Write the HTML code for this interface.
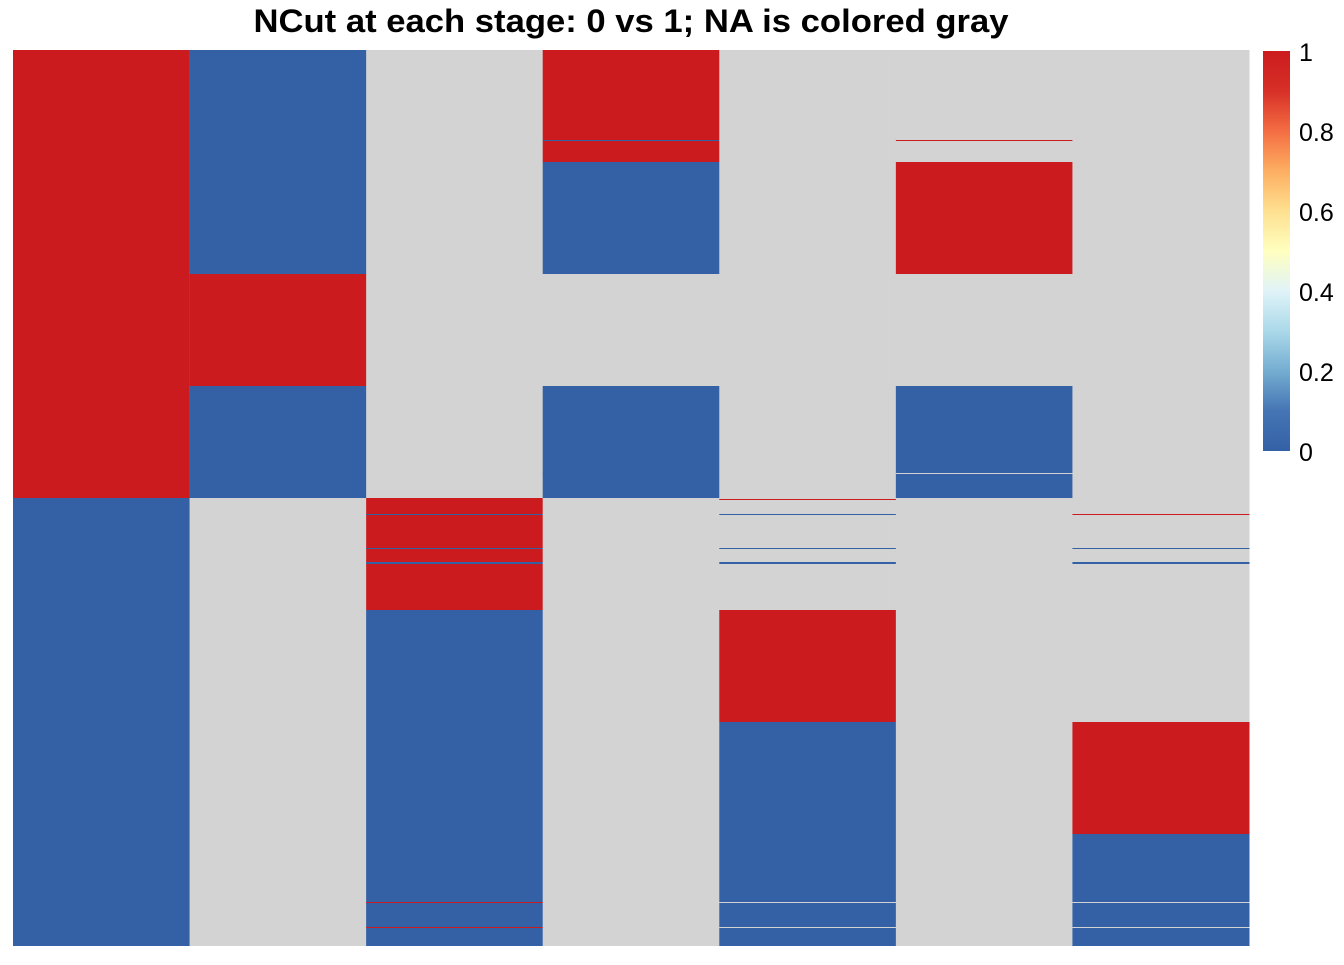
<!DOCTYPE html>
<html><head><meta charset="utf-8"><style>
body{margin:0;background:#fff;width:1344px;height:960px;overflow:hidden;font-family:"Liberation Sans",Arial,sans-serif}
</style></head><body>
<svg id="chart" width="1344" height="960" xmlns="http://www.w3.org/2000/svg">
<text x="631" y="32" text-anchor="middle" font-size="32" font-weight="bold" textLength="755" lengthAdjust="spacingAndGlyphs" font-family="Liberation Sans, Arial, sans-serif" fill="#000">NCut at each stage: 0 vs 1; NA is colored gray</text>
<defs><linearGradient id="cb" x1="0" y1="1" x2="0" y2="0">
<stop offset="0" stop-color="#3461A6"/><stop offset="0.1" stop-color="#4575B4"/><stop offset="0.2" stop-color="#74ADD1"/><stop offset="0.3" stop-color="#ABD9E9"/><stop offset="0.4" stop-color="#E0F3F8"/><stop offset="0.5" stop-color="#FFFFBF"/><stop offset="0.6" stop-color="#FEE090"/><stop offset="0.7" stop-color="#FDAE61"/><stop offset="0.8" stop-color="#F46D43"/><stop offset="0.9" stop-color="#D73027"/><stop offset="1" stop-color="#CB1B1E"/></linearGradient></defs>
<g id="cells"></g>
<rect x="1263" y="51" width="27" height="400" fill="url(#cb)"/>
<g id="legend"></g>
</svg>
<script>
// rows: 896 rows total; segments per column: [startRow, endRow, value] (value null => NA gray, default)
const nRows = 896;
const columns = ["stage1","stage2","stage3","stage4","stage5","stage6","stage7"];
const col1 = [[0,448,1],[448,896,0]];
const col2 = [[0,224,0],[224,336,1],[336,448,0]];
const col3 = [[448,560,1],[464,465,0],[498,499,0],[512,514,0],[560,896,0],[852,853,1],[877,878,1]];
const col4 = [[0,112,1],[90,91,0],[112,224,0],[336,448,0],[423,424,0]];
const col5 = [[449,450,1],[464,465,0],[498,499,0],[512,514,0],[560,672,1],[672,896,0],[852,853,null],[877,878,null]];
const col6 = [[90,91,1],[112,224,1],[336,448,0],[423,424,null]];
const col7 = [[464,465,1],[498,499,0],[512,514,0],[672,784,1],[784,896,0],[852,853,null],[877,878,null]];
const segments = [col1,col2,col3,col4,col5,col6,col7];
const legendTicks = [0,0.2,0.4,0.6,0.8,1];
const legendLabels = ["0","0.2","0.4","0.6","0.8","1"];

const X0=13,X1=1249,Y0=50,Y1=946;
const colW=(X1-X0)/columns.length;
const xs=i=>X0+i*colW;
const ys=r=>Y0+(r/nRows)*(Y1-Y0);
const color=v=>v===null?"#D3D3D3":(v>=0.5?"#CB1B1E":"#3461A6");
const NS="http://www.w3.org/2000/svg";
const g=document.getElementById('cells');
columns.forEach((c,i)=>{
  const bg=document.createElementNS(NS,'rect');
  
  
  bg.setAttribute('x',xs(i));bg.setAttribute('y',Y0);bg.setAttribute('width',colW+0.5);bg.setAttribute('height',Y1-Y0);
  bg.setAttribute('fill','#D3D3D3');g.appendChild(bg);
  segments[i].forEach(s=>{
    const r=document.createElementNS(NS,'rect');
    
    
    const y=ys(s[0]);let h=ys(s[1])-y;
    r.setAttribute('x',xs(i));r.setAttribute('y',y);r.setAttribute('width',colW+0.5);r.setAttribute('height',h);
    r.setAttribute('fill',color(s[2]));g.appendChild(r);
  });
});
const lg=document.getElementById('legend');
legendTicks.forEach((t,k)=>{
  const tx=document.createElementNS(NS,'text');
  
  
  tx.setAttribute('x',1299);tx.setAttribute('y',451-t*400+10);
  tx.setAttribute('font-size','25');tx.setAttribute('fill','#000');
  tx.textContent=legendLabels[k];lg.appendChild(tx);
});
</script>
</body></html>
